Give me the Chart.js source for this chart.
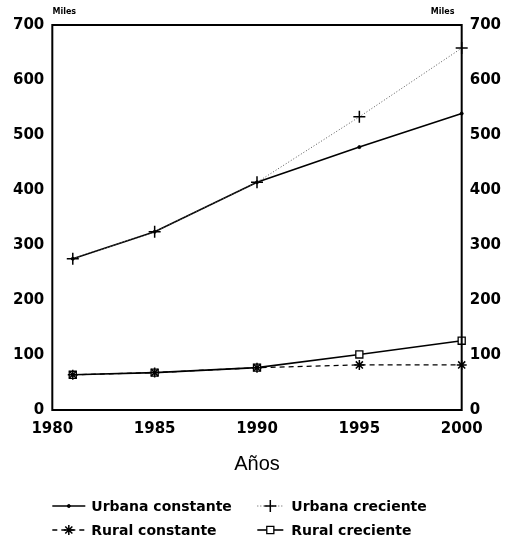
<!DOCTYPE html>
<html lang="es">
<head>
  <meta charset="UTF-8">
  <title>Población urbana y rural</title>
  <script src="https://cdn.jsdelivr.net/npm/chart.js"></script>
  <style>
    body { margin: 0; background: #fff; }
    #wrap { width: 505px; height: 543px; }
  </style>
</head>
<body>
  <div id="wrap"><canvas id="myChart" width="505" height="543"></canvas></div>

  <script>
    // data (thousands)
    const years = [1981, 1985, 1990, 1995, 2000];
    const urbanaConstante = [275, 324, 414, 478, 539];
    const urbanaCreciente = [275, 324, 414, 533, 658];
    const ruralConstante = [64, 68, 77, 82, 82];
    const ruralCreciente = [64, 68, 77, 101, 126];
    const yTicks = [0, 100, 200, 300, 400, 500, 600, 700];
    const xTicks = [1980, 1985, 1990, 1995, 2000];

    const FONT = '"DejaVu Sans", Verdana, sans-serif';

    function pts(vals) {
      return years.map((y, i) => ({ x: y, y: vals[i] }));
    }

    // draws the box, "Miles" and the two-column legend
    const extras = {
      id: 'extras',
      afterDraw(chart) {
        const { ctx, chartArea: a } = chart;
        ctx.save();
        ctx.strokeStyle = '#000';
        ctx.lineWidth = 2;
        ctx.strokeRect(a.left, a.top, a.right - a.left, a.bottom - a.top);

        ctx.fillStyle = '#000';
        ctx.font = 'bold 8px ' + FONT;
        ctx.textAlign = 'center';
        ctx.textBaseline = 'middle';
        ctx.fillText('Miles', a.left + 12, a.top - 13);
        ctx.fillText('Miles', a.right - 19, a.top - 13);

        // legend, two columns
        const items = chart.data.datasets;
        const cols = [
          { x: a.left, len: 33, text: 39 },
          { x: a.left + 205, len: 26, text: 34 }
        ];
        const rows = [a.bottom + 96, a.bottom + 120];
        ctx.font = 'bold 14px ' + FONT;
        ctx.textAlign = 'left';
        items.forEach((ds, i) => {
          const c = cols[i % 2], y = rows[Math.floor(i / 2)];
          ctx.save();
          ctx.strokeStyle = ds.borderColor;
          ctx.lineWidth = ds.borderWidth;
          ctx.setLineDash(ds.borderDash || []);
          ctx.beginPath();
          ctx.moveTo(c.x, y);
          ctx.lineTo(c.x + c.len, y);
          ctx.stroke();
          ctx.setLineDash([]);
          ctx.fillStyle = ds.pointBackgroundColor;
          ctx.strokeStyle = ds.pointBorderColor;
          ctx.lineWidth = ds.pointBorderWidth;
          Chart.helpers.drawPoint(ctx, {
            pointStyle: ds.pointStyle,
            radius: ds.pointRadius,
            borderWidth: ds.pointBorderWidth
          }, c.x + c.len / 2, y);
          ctx.restore();
          ctx.fillStyle = '#000';
          ctx.fillText(ds.label, c.x + c.text, y + 1);
        });
        ctx.restore();
      }
    };

    const ctx = document.getElementById('myChart').getContext('2d');
    const myChart = new Chart(ctx, {
      type: 'line',
      data: {
        datasets: [
          {
            label: 'Urbana constante',
            data: pts(urbanaConstante),
            borderColor: '#000',
            borderWidth: 1.6,
            pointStyle: 'circle',
            pointRadius: 1.5,
            pointBackgroundColor: '#000',
            pointBorderColor: '#000',
            pointBorderWidth: 1,
            clip: false,
            order: 2
          },
          {
            label: 'Urbana creciente',
            data: pts(urbanaCreciente),
            borderColor: '#555',
            borderWidth: 1,
            borderDash: [1, 2],
            pointStyle: 'cross',
            pointRadius: 6,
            pointBackgroundColor: '#000',
            pointBorderColor: '#000',
            pointBorderWidth: 1.5,
            clip: false,
            order: 1
          },
          {
            label: 'Rural constante',
            data: pts(ruralConstante),
            borderColor: '#000',
            borderWidth: 1.3,
            borderDash: [5, 4],
            pointStyle: 'star',
            pointRadius: 5,
            pointBackgroundColor: '#000',
            pointBorderColor: '#000',
            pointBorderWidth: 1.5,
            clip: false,
            order: 3
          },
          {
            label: 'Rural creciente',
            data: pts(ruralCreciente),
            borderColor: '#000',
            borderWidth: 1.6,
            pointStyle: 'rect',
            pointRadius: 5,
            pointBackgroundColor: '#fff',
            pointBorderColor: '#000',
            pointBorderWidth: 1.3,
            clip: false,
            order: 4
          }
        ]
      },
      options: {
        responsive: false,
        animation: false,
        layout: { padding: { top: 25, left: 5, right: -4, bottom: 63 } },
        plugins: {
          legend: { display: false },
          tooltip: { enabled: false }
        },
        scales: {
          x: {
            type: 'linear',
            min: 1980,
            max: 2000,
            afterBuildTicks: s => { s.ticks = xTicks.map(v => ({ value: v })); },
            grid: { display: false, drawTicks: false },
            border: { display: false },
            ticks: {
              padding: 10,
              color: '#000',
              font: { family: FONT, size: 15, weight: 'bold' },
              callback: v => String(v)
            },
            title: {
              display: true,
              text: 'Años',
              color: '#000',
              font: { family: '"Liberation Sans", Arial, sans-serif', size: 20 },
              padding: { top: 4 }
            }
          },
          y: {
            position: 'left',
            min: 0,
            max: 700,
            afterBuildTicks: s => { s.ticks = yTicks.map(v => ({ value: v })); },
            grid: { display: false, drawTicks: false },
            border: { display: false },
            ticks: {
              padding: 8,
              color: '#000',
              font: { family: FONT, size: 15, weight: 'bold' }
            }
          },
          y2: {
            position: 'right',
            min: 0,
            max: 700,
            afterBuildTicks: s => { s.ticks = yTicks.map(v => ({ value: v })); },
            grid: { display: false, drawTicks: false },
            border: { display: false },
            ticks: {
              padding: 8,
              color: '#000',
              font: { family: FONT, size: 15, weight: 'bold' }
            }
          }
        }
      },
      plugins: [extras]
    });
  </script>
</body>
</html>
